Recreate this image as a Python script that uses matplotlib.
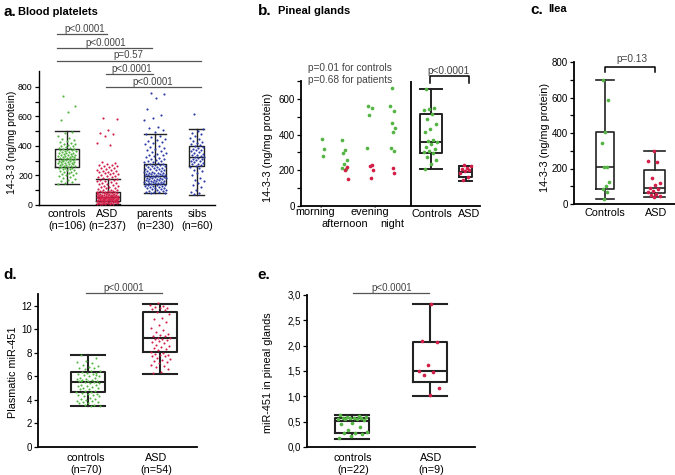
import matplotlib
matplotlib.use('Agg')
import matplotlib.pyplot as plt
from matplotlib.lines import Line2D

plt.rcParams['font.family'] = ['Liberation Sans', 'DejaVu Sans']

# ---------------- DATA ----------------
# Panel a: blood platelets 14-3-3 (ng/mg protein)
a_categories = ["controls\n(n=106)", "ASD\n(n=237)", "parents\n(n=230)", "sibs\n(n=60)"]
a_controls = [741, 673, 633, 576, 497, 488, 470, 455, 447, 440, 433, 428, 421, 415, 410, 406, 401, 397,
              393, 389, 386, 382, 379, 376, 373, 370, 367, 364, 361, 358, 355, 352, 350, 347, 345, 342,
              340, 337, 335, 332, 330, 327, 325, 322, 320, 318, 315, 313, 311, 309, 307, 305, 302, 300,
              298, 296, 293, 291, 289, 287, 284, 282, 280, 277, 275, 272, 270, 267, 265, 262, 260, 257,
              254, 251, 248, 245, 242, 238, 234, 230, 226, 222, 218, 214, 210, 205, 200, 195, 190, 184,
              178, 171, 163, 155, 148, 142]
a_asd = [588, 580, 508, 490, 479, 470, 418, 407, 290, 284, 279, 274, 270, 266, 262, 257, 252, 248, 244,
         240, 236, 232, 229, 225, 221, 218, 214, 210, 207, 203, 199, 195, 191, 187, 183, 179, 176, 172,
         168, 164, 160, 156, 152, 148, 144, 140, 136, 132, 128, 124, 120, 116, 112, 108, 105, 102, 99,
         97, 95, 93, 91, 89, 88, 86, 85, 84, 82, 81, 80, 78, 77, 76, 74, 73, 72, 71, 70, 69, 68, 67, 66,
         65, 64, 63, 62, 61, 60, 59, 58, 57, 57, 56, 56, 55, 55, 54, 53, 52, 52, 51, 50, 50, 49, 48, 47,
         47, 46, 45, 45, 44, 43, 42, 42, 41, 40, 40, 39, 38, 37, 37, 36, 35, 34, 33, 33, 32, 31, 30, 29,
         28, 27, 26, 25, 24, 23, 22, 21, 20, 19, 18, 17, 16, 15, 14, 13, 12, 11, 10, 9, 8, 7, 6, 5]
a_parents = [757, 750, 723, 651, 610, 588, 578, 531, 520, 508, 495, 478, 468, 458, 450, 442, 434, 426,
             418, 410, 402, 395, 388, 381, 374, 367, 360, 354, 348, 342, 336, 330, 325, 320, 315, 310,
             305, 300, 296, 292, 288, 284, 280, 277, 274, 271, 268, 265, 262, 259, 256, 253, 250, 247,
             244, 241, 238, 235, 232, 229, 226, 223, 220, 218, 216, 214, 212, 210, 208, 206, 204, 202,
             200, 198, 196, 194, 192, 190, 188, 186, 184, 182, 180, 178, 176, 174, 172, 170, 168, 166,
             164, 162, 160, 158, 156, 154, 152, 150, 148, 146, 144, 142, 140, 138, 136, 134, 132, 130,
             127, 124, 121, 118, 115, 112, 109, 106, 103, 100, 97, 94, 91, 88, 85, 82, 80]
a_sibs = [619, 512, 500, 490, 478, 466, 455, 445, 436, 428, 420, 413, 406, 400, 394, 388, 382, 376, 370,
          364, 358, 352, 347, 342, 337, 332, 327, 322, 318, 313, 309, 304, 300, 295, 290, 285, 280, 275,
          270, 265, 258, 250, 240, 228, 215, 200, 185, 172, 160, 148, 136, 120, 104, 90, 78, 72]
# box stats: (whisker low, Q1, median, Q3, whisker high)
a_box_stats = [(140, 257, 312, 378, 504), (8, 25, 56, 86, 176), (78, 141, 198, 281, 481), (71, 263, 323, 398, 515)]
a_pvalues = ["p<0.0001", "p<0.0001", "p=0.57", "p<0.0001", "p<0.0001"]

# Panel b: pineal glands
b_time_labels = ["morning", "afternoon", "evening", "night"]
b_group_labels = ["Controls", "ASD"]
b_morning_ctrl = [374, 319, 280]
b_afternoon_ctrl = [372, 313, 295, 260, 238, 211, 209]
b_afternoon_asd = [220, 202, 150]
b_evening_ctrl = [560, 547, 510, 327]
b_evening_asd = [230, 225, 202, 159]
b_night_ctrl = [663, 560, 532, 467, 439, 416, 323, 310]
b_night_asd = [211, 183]
b_controls = [655, 550, 545, 540, 515, 490, 460, 430, 415, 370, 365, 360, 350, 330, 320, 310, 300, 298,
              275, 255, 235, 210]
b_asd = [228, 222, 215, 210, 200, 195, 185, 165, 148]
b_box_stats = [(205, 299, 360, 513, 655), (140, 164, 192, 226, 226)]

# Panel c: ilea
c_labels = ["Controls", "ASD"]
c_controls = [699, 586, 408, 342, 210, 210, 122, 101, 83, 69, 28]
c_asd = [297, 242, 235, 146, 118, 107, 88, 85, 75, 66, 56, 52, 47, 41]
c_box_stats = [(28, 83, 207, 408, 699), (38, 64, 92, 190, 297)]

# Panel d: plasmatic miR-451
d_labels = ["controls\n(n=70)", "ASD\n(n=54)"]
d_controls = [7.8, 7.6, 7.3, 7.2, 7.1, 7.0, 6.9, 6.8, 6.7, 6.7, 6.6, 6.5, 6.5, 6.4, 6.3, 6.3, 6.2, 6.2,
              6.1, 6.0, 6.0, 5.9, 5.9, 5.8, 5.8, 5.7, 5.7, 5.6, 5.6, 5.6, 5.5, 5.5, 5.4, 5.4, 5.3, 5.3,
              5.2, 5.2, 5.1, 5.0, 5.0, 4.9, 4.9, 4.8, 4.8, 4.7, 4.7, 4.6, 4.5, 4.5, 4.4, 4.4, 4.3, 4.3,
              4.2, 4.1, 4.1, 4.0, 3.9, 3.9, 3.8, 3.8, 3.7, 3.7, 3.6, 3.6, 3.5, 3.5, 5.65, 6.15]
d_asd = [12.2, 12.1, 12.0, 11.9, 11.8, 11.8, 11.7, 11.6, 11.5, 11.3, 11.0, 10.9, 10.6, 10.4, 10.1, 9.9,
         9.8, 9.6, 9.5, 9.4, 9.4, 9.3, 9.3, 9.2, 9.2, 9.1, 9.0, 8.9, 8.8, 8.7, 8.6, 8.5, 8.4, 8.3, 8.2,
         8.1, 8.0, 7.9, 7.8, 7.8, 7.7, 7.7, 7.6, 7.5, 7.4, 7.3, 7.2, 7.1, 7.0, 6.9, 6.8, 6.6, 6.4, 6.3]
d_box_stats = [(3.51, 4.65, 5.56, 6.36, 7.83), (6.24, 8.11, 9.22, 11.46, 12.17)]

# Panel e: miR-451 in pineal glands
e_labels = ["controls\n(n=22)", "ASD\n(n=9)"]
e_controls = [0.64, 0.62, 0.60, 0.59, 0.58, 0.58, 0.57, 0.57, 0.56, 0.55, 0.55, 0.53, 0.47, 0.45, 0.40,
              0.33, 0.30, 0.28, 0.27, 0.25, 0.22, 0.18]
e_asd = [2.82, 2.10, 2.08, 1.61, 1.50, 1.48, 1.43, 1.17, 1.02]
e_box_stats = [(0.16, 0.28, 0.51, 0.57, 0.64), (1.01, 1.29, 1.50, 2.08, 2.82)]
e_ticks = [0, 0.5, 1.0, 1.5, 2.0, 2.5, 3.0]
e_ticklabels = ["0,0", "0,5", "1,0", "1,5", "2,0", "2,5", "3,0"]

# ---------------- STYLE / LAYOUT ----------------
GREEN = "#55b544"
RED = "#d21e48"
BLUE = "#2c3ca6"
PGRAY = "#444444"
W, H = 675, 475
fig = plt.figure(figsize=(W / 100, H / 100), dpi=100)


def add_ax(l, t, r, b, ylim, lw=1.0, ylabelsize=7):
    ax = fig.add_axes([l / W, 1 - b / H, (r - l) / W, (b - t) / H])
    ax.set_xlim(l, r)
    ax.set_ylim(*ylim)
    ax.patch.set_alpha(0)
    for s in ("top", "right"):
        ax.spines[s].set_visible(False)
    for s in ("left", "bottom"):
        ax.spines[s].set_linewidth(lw)
    ax.tick_params(axis="y", which="both", length=3, width=0.9, labelsize=ylabelsize, pad=1.5)
    ax.tick_params(axis="x", length=0, labelsize=7.8)
    return ax


def fline(xs, ys, **kw):
    fig.add_artist(Line2D([x / W for x in xs], [1 - y / H for y in ys], **kw))


def ftext(x, y, s, **kw):
    fig.text(x / W, 1 - y / H, s, **kw)


def jitter(n, spread, phase=0.0):
    return [((i * 0.618034 + phase) % 1 - 0.5) * 2 * spread for i in range(n)]


def draw_box(ax, st, pos, width, lw, color="#222222"):
    lo, q1, med, q3, hi = st
    ax.bxp([dict(whislo=lo, q1=q1, med=med, q3=q3, whishi=hi, fliers=[])], positions=[pos],
           widths=[width], capwidths=[width], showfliers=False, manage_ticks=False,
           boxprops=dict(color=color, lw=lw), whiskerprops=dict(color=color, lw=lw),
           capprops=dict(color=color, lw=lw), medianprops=dict(color=color, lw=lw), zorder=2)


def dots(ax, vals, pos, spread, color, s, phase=0.0):
    xs = [pos + j for j in jitter(len(vals), spread, phase)]
    ax.scatter(xs, vals, s=s, color=color, lw=0, zorder=3, clip_on=False)


def ylabel(x, y, s, size=7.8):
    ftext(x, y, s, rotation=90, ha="center", va="center", fontsize=size)


# ---------------- Panel a ----------------
axa = add_ax(39, 71, 215, 205, (0, 908), lw=1.0, ylabelsize=6.3)
a_pos = [67, 107.5, 155, 197]
a_w = [24, 24, 22, 15]
a_spread = [9, 11, 11, 7]
for vals, col, p, w, sp, st in zip([a_controls, a_asd, a_parents, a_sibs], [GREEN, RED, BLUE, BLUE],
                                   a_pos, a_w, a_spread, a_box_stats):
    draw_box(axa, st, p, w, 1.0)
    dots(axa, vals, p, sp, col, 2.4, 0.3)
axa.set_yticks([0, 200, 400, 600, 800])
axa.set_yticks([100, 300, 500, 700], minor=True)
axa.set_xticks(a_pos)
axa.set_xticklabels(a_categories, linespacing=1.25)
axa.tick_params(axis="x", pad=3)
ylabel(12, 142, "14-3-3 (ng/mg protein)", size=7.5)
ftext(3, 12, "a.", fontsize=11, fontweight="bold", va="center")
ftext(18, 12, "Blood platelets", fontsize=8, fontweight="bold", va="center")
a_sig = [(57, 107, 34.3, 85, 29.5), (57, 152, 47.7, 106, 43), (57, 201, 61, 128, 55.5),
         (106, 153, 74.3, 132, 69.5), (106, 201, 87.3, 153, 82)]
for (x1, x2, y, tx, ty), pv in zip(a_sig, a_pvalues):
    fline([x1, x2], [y, y], color="#555555", lw=0.9)
    ftext(tx, ty, pv, ha="center", va="center", fontsize=7, color=PGRAY)

# ---------------- Panel b ----------------
axb = add_ax(301, 81, 480, 206, (0, 700), lw=1.3)
axb.axvline(411, color="black", lw=1.3)
dots(axb, b_morning_ctrl, 323, 1.5, GREEN, 7, 0.2)
dots(axb, b_afternoon_ctrl, 344, 3, GREEN, 7, 0.1)
dots(axb, b_afternoon_asd, 346, 2.5, RED, 7, 0.6)
dots(axb, b_evening_ctrl, 369, 3, GREEN, 7, 0.3)
dots(axb, b_evening_asd, 372, 2.5, RED, 7, 0.5)
dots(axb, b_night_ctrl, 393, 3, GREEN, 7, 0.4)
dots(axb, b_night_asd, 393.5, 1, RED, 7, 0.2)
draw_box(axb, b_box_stats[0], 430.5, 22, 1.4)
draw_box(axb, b_box_stats[1], 465.5, 13, 1.4)
dots(axb, b_controls, 430.5, 7, GREEN, 7, 0.15)
dots(axb, b_asd, 465.5, 6, RED, 7, 0.35)
axb.set_yticks([0, 200, 400, 600])
axb.set_yticks([100, 300, 500, 700], minor=True)
axb.set_xticks([432, 469])
axb.set_xticklabels(b_group_labels)
axb.tick_params(axis="x", pad=2)
for lab, (tx, ty) in zip(b_time_labels, [(315, 212), (345, 224), (370, 212), (392, 224)]):
    ftext(tx, ty, lab, ha="center", va="center", fontsize=7.8)
ylabel(268, 147, "14-3-3 (ng/mg protein)")
ftext(258, 11, "b.", fontsize=11, fontweight="bold", va="center")
ftext(278, 11, "Pineal glands", fontsize=8, fontweight="bold", va="center")
ftext(308, 68, "p=0.01 for controls", fontsize=7.3, color=PGRAY, va="center")
ftext(308, 80, "p=0.68 for patients", fontsize=7.3, color=PGRAY, va="center")
fline([430, 430, 469, 469], [83, 76, 76, 83], color="black", lw=1.1)
ftext(449, 71, "p<0.0001", ha="center", va="center", fontsize=7.3, color=PGRAY)

# ---------------- Panel c ----------------
axc = add_ax(574, 62, 675, 204, (0, 800), lw=1.3)
draw_box(axc, c_box_stats[0], 605, 18, 1.2)
draw_box(axc, c_box_stats[1], 654.5, 21, 1.2)
dots(axc, c_controls, 605, 4, GREEN, 7, 0.25)
dots(axc, c_asd, 654.5, 7, RED, 7, 0.45)
axc.set_yticks([0, 200, 400, 600, 800])
axc.set_yticks([100, 300, 500, 700], minor=True)
axc.set_xticks([605, 656])
axc.set_xticklabels(c_labels)
axc.tick_params(axis="x", pad=3)
ylabel(545, 137, "14-3-3 (ng/mg protein)")
ftext(530, 9.5, "c.", fontsize=11, fontweight="bold", va="center")
ftext(548, 9.5, "Ilea", fontsize=8, fontweight="bold", va="center")
fline([605, 605, 655, 655], [72, 67, 67, 72], color="black", lw=1.1)
ftext(632, 59, "p=0.13", ha="center", va="center", fontsize=7.3, color=PGRAY)

# ---------------- Panel d ----------------
axd = add_ax(38, 294, 197, 447, (0, 13), lw=1.3)
draw_box(axd, d_box_stats[0], 88, 34, 1.5)
draw_box(axd, d_box_stats[1], 160, 34, 1.5)
dots(axd, d_controls, 88, 12, GREEN, 2.2, 0.2)
dots(axd, d_asd, 160, 10, RED, 2.2, 0.4)
axd.set_yticks([0, 2, 4, 6, 8, 10, 12])
axd.set_xticks([86, 156])
axd.set_xticklabels(d_labels, linespacing=1.25)
axd.tick_params(axis="x", pad=4)
ylabel(13, 372, "Plasmatic miR-451")
ftext(3, 275, "d.", fontsize=11, fontweight="bold", va="center")
fline([86, 162], [293, 293], color="#555555", lw=0.9)
ftext(124, 288, "p<0.0001", ha="center", va="center", fontsize=7, color=PGRAY)

# ---------------- Panel e ----------------
axe = add_ax(307, 295, 475, 447, (0, 3.0), lw=1.3)
draw_box(axe, e_box_stats[0], 352, 34, 1.5)
draw_box(axe, e_box_stats[1], 430, 34, 1.5)
dots(axe, e_controls, 352, 15, GREEN, 7, 0.1)
dots(axe, e_asd, 430, 12, RED, 7, 0.55)
axe.set_yticks(e_ticks)
axe.set_yticklabels(e_ticklabels)
axe.set_xticks([353, 431])
axe.set_xticklabels(e_labels, linespacing=1.25)
axe.tick_params(axis="x", pad=4)
ylabel(268, 373, "miR-451 in pineal glands")
ftext(257, 275, "e.", fontsize=11, fontweight="bold", va="center")
fline([353, 429], [293, 293], color="#555555", lw=0.9)
ftext(392, 288, "p<0.0001", ha="center", va="center", fontsize=7, color=PGRAY)

fig.savefig("out.png", dpi=100)
